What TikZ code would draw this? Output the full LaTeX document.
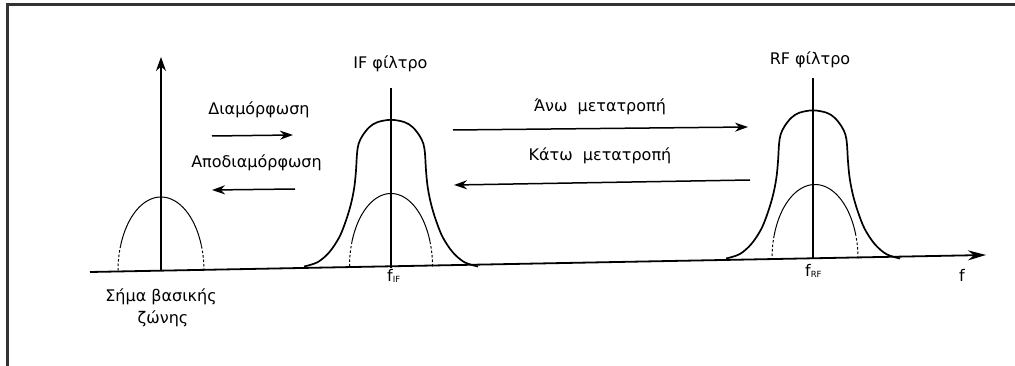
\documentclass[tikz,border=0pt]{standalone}
\usepackage{fontspec}
\setmainfont{DejaVu Sans}
\usetikzlibrary{arrows.meta}
\newcommand{\bighump}[2]{%
\begin{scope}[shift={#1}, yscale=#2]
\draw[humpbig] plot[smooth, tension=0.55] coordinates {
 (-87,0) (-73.4,-4.3) (-61.7,-14.3) (-51.7,-29.3) (-45,-46) (-40,-62.7)
 (-36.7,-79.3) (-35,-96) (-34,-112.7) (-32.4,-122.7) (-28.4,-131)
 (-21.7,-139.3) (-13.7,-144.3) (0,-146.7)
 (13.7,-144.3) (21.7,-139.3) (28.4,-131) (32.4,-122.7) (34,-112.7)
 (35,-96) (36.7,-79.3) (40,-62.7) (45,-46) (51.7,-29.3) (61.7,-14.3)
 (73.4,-4.3) (87,0)};
\end{scope}}
\newcommand{\smallhump}[5]{%
\begin{scope}[shift={#1}]
\draw[humpsmall] plot[domain=#4:#5, samples=60] ({#2*cos(\x)},{-#3*sin(\x)});
\draw[humpsmall, dash pattern=on 2.5pt off 2pt] plot[domain=0:#4, samples=12] ({#2*cos(\x)},{-#3*sin(\x)});
\draw[humpsmall, dash pattern=on 2.5pt off 2pt] plot[domain=#5:180, samples=12] ({#2*cos(\x)},{-#3*sin(\x)});
\end{scope}}
\begin{document}
\begin{tikzpicture}[x=1pt,y=-1pt,
  lbl/.style={font=\fontsize{16}{18}\selectfont, inner sep=0pt, anchor=base},
  conn/.style={line width=1.5pt, -{Stealth[length=13pt,width=9pt]}},
  vline/.style={line width=1.5pt},
  humpbig/.style={line width=1.7pt},
  humpsmall/.style={line width=1pt}]
\useasboundingbox (0,0) rectangle (1015,366);
% frame
\draw[line width=3pt, black!80, line join=miter] (7,366) -- (7,5) -- (1015,5);
% axis
\coordinate (ax0) at (90,272);
\coordinate (ax1) at (986,255);
\draw[line width=1.8pt, -{Stealth[length=18pt,width=10pt]}] (ax0) -- (ax1);
% baseband
\coordinate (bb0) at (161,271);
\coordinate (bb1) at (161,57);
\draw[vline, -{Stealth[length=14pt,width=10pt]}] (bb0) -- (bb1);
\smallhump{(161,271)}{43}{74}{20}{160}
% IF
\coordinate (if0) at (391,268);
\coordinate (if1) at (391,88);
\draw[vline] (if0) -- (if1);
\bighump{(391,266.5)}{1}
\smallhump{(391,266.5)}{41.5}{73}{20}{160}
% RF
\coordinate (rf0) at (813,259);
\coordinate (rf1) at (813,78);
\draw[vline] (rf0) -- (rf1);
\bighump{(813,258.5)}{1.01}
\smallhump{(815,258.5)}{43}{74}{18}{162}
% labels
\node[lbl] (ifl) at (390.5,68.3) {IF φίλτρο};
\node[lbl] (rfl) at (810,65) {RF φίλτρο};
\node[lbl] (mod) at (259,114.3) {Διαμόρφωση};
\node[lbl] (demod) at (256.5,167.5) {Αποδιαμόρφωση};
\node[lbl] (up) at (600,111.5) {Άνω\ \ μετατροπή};
\node[lbl] (down) at (600,161) {Κάτω\ \ μετατροπή};
\node[lbl] (bbl1) at (161,301.7) {Σήμα βασικής};
\node[lbl] (bbl2) at (163,323) {ζώνης};
\node[lbl, anchor=base west] (fif) at (387,281.7) {f\raisebox{-1pt}{\fontsize{8.5}{9}\selectfont IF}};
\node[lbl, anchor=base west] (frf) at (805,276.7) {f\raisebox{-1pt}{\fontsize{8.5}{9}\selectfont RF}};
\node[lbl] (fl) at (962,281.7) {f};
% arrows
\coordinate (m0) at (212,136); \coordinate (m1) at (293,135);
\draw[conn] (m0) -- (m1);
\coordinate (d0) at (295,189); \coordinate (d1) at (212,190);
\draw[conn] (d0) -- (d1);
\coordinate (u0) at (453,130); \coordinate (u1) at (748,127);
\draw[conn] (u0) -- (u1);
\coordinate (k0) at (750,180); \coordinate (k1) at (454,185);
\draw[conn] (k0) -- (k1);
\end{tikzpicture}
\end{document}
